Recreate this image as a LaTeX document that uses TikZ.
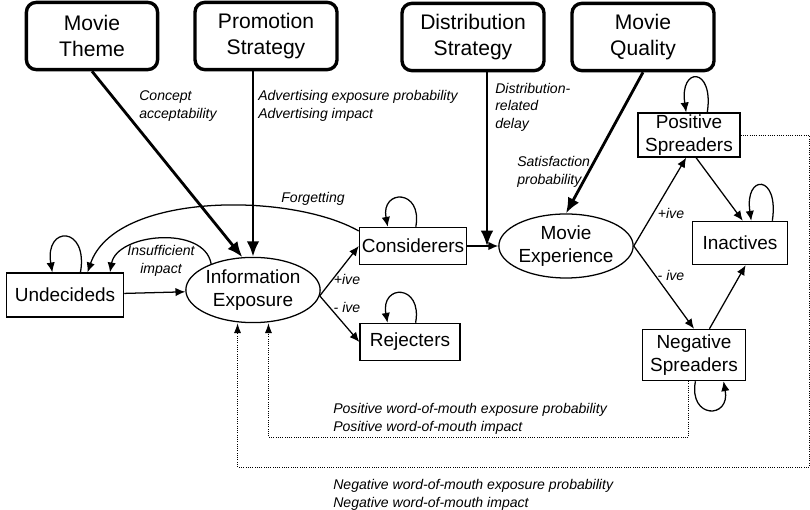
\documentclass[tikz,border=0pt]{standalone}
\usepackage{fontspec}
\setmainfont{Liberation Sans}
\usetikzlibrary{shapes.geometric,arrows.meta}

\tikzset{
  bigbox/.style={draw,line width=2.4pt,rounded corners=7pt,align=center,inner sep=0pt,
    minimum width=3.55cm,minimum height=1.68cm,font=\fontsize{15}{19}\selectfont},
  statebox/.style={draw,line width=0.9pt,align=center,inner sep=0pt,
    font=\fontsize{13.5}{16.5}\selectfont},
  stateoval/.style={statebox,ellipse},
  lbl/.style={font=\fontsize{10}{12.5}\selectfont\itshape,inner sep=0pt,align=left},
  flow/.style={-{Latex[length=7pt,width=6pt]},line width=0.9pt},
  drive/.style={-{Latex[length=11pt,width=9pt]},line width=2pt},
  wom/.style={-{Latex[length=7pt,width=5pt]},densely dotted,line width=0.6pt}
}

\begin{document}
\begin{tikzpicture}[x=0.025cm,y=-0.025cm]

    \useasboundingbox (0,0) rectangle (810,510);

    % external drivers
    \node[bigbox,minimum width=3.28cm] (theme) at (92,36) {Movie\\Theme};
    \node[bigbox] (promo) at (266,36) {Promotion\\Strategy};
    \node[bigbox] (distr) at (473,37) {Distribution\\Strategy};
    \node[bigbox] (quality) at (643,37) {Movie\\Quality};

    % states
    \node[statebox,minimum width=2.93cm,minimum height=1.1cm] (undec) at (65,295) {Undecideds};
    \node[stateoval,minimum width=3.25cm,minimum height=1.63cm] (info) at (253,290) {Information\\Exposure};
    \node[statebox,minimum width=2.68cm,minimum height=0.93cm] (consid) at (413,246) {Considerers};
    \node[statebox,minimum width=2.5cm,minimum height=0.93cm] (reject) at (410,342) {Rejecters};
    \node[stateoval,minimum width=2.88cm,minimum height=1.6cm] (exper) at (566,246) {Movie\\Experience};
    \node[statebox,minimum width=2.55cm,minimum height=1.1cm] (pos) at (689,135) {Positive\\Spreaders};
    \node[statebox,minimum width=2.38cm,minimum height=1.08cm] (inact) at (740,243) {Inactives};
    \node[statebox,minimum width=2.58cm,minimum height=1.28cm] (neg) at (694,355) {Negative\\Spreaders};

    % driver arrows
    \draw[drive] (theme.south) -- (info.108);
    \draw[drive] (promo.south -| info.north) -- (info.north);
    \coordinate (join) at (487,246);
    \draw[drive,line width=1.3pt] (distr.south -| join) -- (join);
    \draw[drive] (quality.south) -- (exper.north);

    % flows
    \draw[flow] (undec) -- (info);
    \draw[flow] (info.-5) -- (consid.west);
    \draw[flow] (info.-5) -- (reject.west);
    \draw[flow] (consid) -- (exper);
    \draw[flow] (exper.east) -- ([xshift=-2pt]pos.south);
    \draw[flow] (exper.east) -- (neg.north);
    \draw[flow] ([xshift=5pt]pos.south) -- ([xshift=2pt]inact.north);
    \draw[flow] ([xshift=11pt]neg.north) -- ([xshift=4pt]inact.south);
    \draw[flow] (info.148) to[out=100,in=80] ([xshift=32pt]undec.north);
    \draw[flow] ([yshift=-3pt]consid.north west) .. controls (290,192) and (115,192) .. ([xshift=16pt]undec.north);

    % self loops
    \draw[flow] ([xshift=11pt]undec.north) .. controls +(8,-47) and +(-8,-47) .. ([xshift=-9pt]undec.north);
    \draw[flow] ([xshift=2pt]consid.north) .. controls +(7,-38) and +(-7,-38) .. ([xshift=-18pt]consid.north);
    \draw[flow] ([xshift=4pt]reject.north) .. controls +(7,-39) and +(-7,-39) .. ([xshift=-16pt]reject.north);
    \draw[flow] ([xshift=13pt]pos.north) .. controls +(7,-46) and +(-7,-46) .. ([xshift=-2pt]pos.north);
    \draw[flow] ([xshift=23pt]inact.north) .. controls +(7,-47) and +(-7,-47) .. ([xshift=8pt]inact.north);
    \draw[flow] ([xshift=1pt]neg.south) .. controls +(-7,38) and +(7,38) .. ([xshift=21pt]neg.south);

    % word-of-mouth feedback
    \draw[wom] ([xshift=-4pt]neg.south) -- ++(0,56) -| ([xshift=11pt]info.south);
    \draw[wom] (pos.east) -| (809,467) -| ([xshift=-11pt]info.south);

    % labels
    \node[lbl,anchor=west] (lconcept) at (139,106) {Concept\\acceptability};
    \node[lbl,anchor=west] (ladvert) at (258,106) {Advertising exposure probability\\Advertising impact};
    \node[lbl,anchor=west] (ldelay) at (495,107) {Distribution-\\related\\delay};
    \node[lbl,anchor=west] (lsatis) at (517,172) {Satisfaction\\probability};
    \node[lbl] (lforget) at (313,199) {Forgetting};
    \node[lbl,align=center] (limpact) at (161,261) {Insufficient\\impact};
    \node[lbl] (lconsid) at (347,279) {+ive};
    \node[lbl] (lreject) at (347,307) {- ive};
    \node[lbl] (lpos) at (671,213) {+ive};
    \node[lbl] (lneg) at (671,275) {- ive};
    \node[lbl,anchor=west] (lposwom) at (333,419) {Positive word-of-mouth exposure probability\\Positive word-of-mouth impact};
    \node[lbl,anchor=west] (lnegwom) at (333,495) {Negative word-of-mouth exposure probability\\Negative word-of-mouth impact};

\end{tikzpicture}
\end{document}
